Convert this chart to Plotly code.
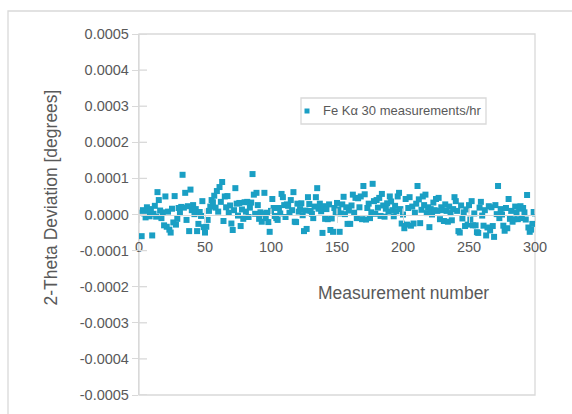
import plotly.graph_objects as go

# Measurement index and 2-theta deviation (in units of 1e-5 degrees)
measurement = list(range(1, 301))
deviation_e5 = [
    # 1-50
    0.5, -6.0, 1.2, 0.3, -0.8, 2.0, 0.9, -0.5, 1.5, -5.8,
    0.2, 2.4, -0.6, 6.2, 4.0, 1.1, -1.0, 0.6, -3.0, 5.0,
    -3.4, 0.8, -4.2, -5.0, 1.6, -2.2, 5.1, -2.8, -1.2, 1.8,
    0.4, 2.1, 11.0, 1.9, 6.0, -1.5, 2.3, -4.6, 6.9, 1.2,
    2.6, 0.1, 1.5, -4.6, -2.6, 0.7, -0.4, 3.7, -3.5, -5.0,
    # 51-100
    -3.4, -1.5, 1.0, 2.2, 4.0, 3.4, 5.2, 1.9, 6.5, 0.8,
    7.6, 3.5, 9.0, -1.8, 5.0, 2.0, 5.1, 0.5, 2.5, -2.5,
    -4.3, 1.2, 7.3, 3.0, -0.3, 3.2, -3.2, 1.4, -1.2, 3.4,
    0.8, 3.5, -0.7, 1.9, 3.3, 11.2, 5.5, 0.2, 6.0, 2.6,
    -1.2, 0.6, -2.0, 0.3, 6.0, -1.0, 0.5, -2.1, -4.8, 1.0,
    # 101-150
    4.3, 1.8, -0.4, -1.0, -1.5, 1.8, 0.3, 5.7, 4.8, 2.6,
    -0.7, 2.8, 2.4, 0.5, 4.0, 1.2, 6.2, -2.0, -2.1, 3.0,
    0.8, 1.5, 3.1, -0.2, -4.6, 1.1, -4.0, 4.8, 2.9, 1.0,
    0.2, -1.0, 2.2, 4.8, 7.3, 1.6, 3.0, 0.9, -5.1, 2.3,
    -1.2, 1.5, -1.3, 2.8, -4.3, -1.1, -4.8, 1.8, 0.4, 3.2,
    # 151-200
    1.4, -4.8, 0.3, 2.8, 4.9, 0.1, 2.0, -2.6, 1.1, -2.6,
    2.5, 5.5, 0.5, 4.6, -1.0, 4.5, 2.0, 5.0, -1.3, 7.9,
    5.6, -1.4, 1.8, 3.0, -1.0, 0.6, 8.5, 3.7, 0.2, 4.0,
    1.9, 4.6, -0.4, 5.7, 2.5, -0.6, 1.6, 3.1, 0.8, 5.0,
    3.6, 1.2, -0.5, 2.4, 0.9, 5.0, 6.0, 1.5, -2.5, 0.0,
    # 201-250
    -3.8, 4.3, -2.8, 1.8, 4.8, -3.1, 2.2, -2.5, 0.5, 3.0,
    7.9, 4.2, -2.4, 1.3, 5.0, 2.6, 5.5, 0.4, 2.0, -3.5,
    1.5, 0.0, 3.3, 1.2, 4.3, 1.0, 4.6, -1.3, 2.0, 1.2,
    -1.8, 2.8, 1.0, -2.0, 2.2, 0.4, -1.6, 1.5, 4.8, 3.7,
    1.0, -4.6, -5.0, 2.5, -1.1, 0.6, -3.2, 1.4, -2.8, 2.6,
    # 251-300
    -1.4, 3.7, -3.0, 0.3, -3.0, -4.9, -5.1, 1.9, 3.5, -0.3,
    -3.1, 1.2, -5.8, -3.6, 2.3, -4.4, 2.0, -3.2, -6.2, 2.6,
    0.1, 7.9, -1.0, 1.5, 0.0, -3.1, -4.5, 1.8, -3.8, 4.3,
    -1.2, 1.0, -2.0, -1.3, 2.2, 0.5, -1.3, 1.6, 2.3, -1.0,
    1.8, 0.6, -1.4, 5.4, -3.6, -4.8, -4.2, -2.6, 0.7, 0.3,
]
deviation_deg = [v * 1e-5 for v in deviation_e5]

x_ticks = [0, 50, 100, 150, 200, 250, 300]
y_ticks = [0.0005, 0.0004, 0.0003, 0.0002, 0.0001, 0.0,
           -0.0001, -0.0002, -0.0003, -0.0004, -0.0005]
y_tick_text = ["0.0005", "0.0004", "0.0003", "0.0002", "0.0001", "0.0000",
               "-0.0001", "-0.0002", "-0.0003", "-0.0004", "-0.0005"]

series_name = "Fe K\u03b1 30 measurements/hr"
marker_color = "#1a9fc4"
axis_color = "#d9d9d9"
text_color = "#595959"
font_family = "Liberation Sans, Arial, sans-serif"

W, H = 572, 414
ML, MR, MT, MB = 139, 37, 34, 19
PW, PH = W - ML - MR, H - MT - MB


def px_x(px):
    return (px - ML) / PW


def px_y(py):
    return (H - MB - py) / PH


fig = go.Figure()
fig.add_trace(go.Scatter(
    x=measurement, y=deviation_deg, mode="markers", name=series_name,
    marker=dict(symbol="square", size=6, color=marker_color, line=dict(width=0)),
    showlegend=False,
))

shapes = []
# outer chart frame (extends past the right and bottom edges)
shapes.append(dict(type="rect", xref="paper", yref="paper",
                   x0=px_x(8), x1=1.3, y0=-0.3, y1=px_y(11),
                   line=dict(color=axis_color, width=1.3), layer="below"))
# plot area border
shapes.append(dict(type="rect", xref="paper", yref="paper", x0=0, x1=1, y0=0, y1=1,
                   line=dict(color=axis_color, width=1.3), layer="below"))
# inner halves of the crossing tick marks
for v in y_ticks:
    shapes.append(dict(type="line", xref="paper", yref="y", x0=0, x1=8 / PW, y0=v, y1=v,
                       line=dict(color=axis_color, width=1.3)))
for v in x_ticks:
    shapes.append(dict(type="line", xref="x", yref="paper", x0=v, x1=v,
                       y0=0.5, y1=0.5 + 6 / PH,
                       line=dict(color=axis_color, width=1.3)))

# legend box with its symbol
lg_x0, lg_x1, lg_y0, lg_y1 = 301, 486, 98, 124
shapes.append(dict(type="rect", xref="paper", yref="paper",
                   x0=px_x(lg_x0), x1=px_x(lg_x1), y0=px_y(lg_y1), y1=px_y(lg_y0),
                   line=dict(color=axis_color, width=1.3), fillcolor="white"))
shapes.append(dict(type="rect", xref="paper", yref="paper",
                   x0=px_x(304.5), x1=px_x(309.5), y0=px_y(113.5), y1=px_y(108.5),
                   line=dict(width=0), fillcolor=marker_color))

annotations = [
    dict(text=series_name, xref="paper", yref="paper", x=px_x(321), y=px_y(111),
         xanchor="left", yanchor="middle", showarrow=False,
         font=dict(size=13, color=text_color, family=font_family)),
    dict(text="Measurement number", xref="paper", yref="paper",
         x=px_x(403.5), y=px_y(292.5), xanchor="center", yanchor="middle",
         showarrow=False, font=dict(size=17.5, color=text_color, family=font_family)),
    dict(text="2-Theta Deviation [degrees]", xref="paper", yref="paper",
         x=px_x(50), y=px_y(197.5), xanchor="center", yanchor="middle",
         textangle=-90, showarrow=False,
         font=dict(size=17.5, color=text_color, family=font_family)),
]

fig.update_layout(
    width=W, height=H,
    margin=dict(l=ML, r=MR, t=MT, b=MB, pad=0),
    paper_bgcolor="white", plot_bgcolor="white",
    font=dict(family=font_family, color=text_color),
    showlegend=False,
    shapes=shapes,
    annotations=annotations,
    xaxis=dict(
        range=[0, 300], tickvals=x_ticks, ticktext=[str(v) for v in x_ticks],
        anchor="free", position=0.5,
        showline=True, linecolor=axis_color, linewidth=1.3,
        ticks="outside", ticklen=7, tickwidth=1.3, tickcolor=axis_color,
        showgrid=False, zeroline=False,
        ticklabelstandoff=12,
        tickfont=dict(size=14.5, color=text_color, family=font_family),
    ),
    yaxis=dict(
        range=[-0.0005, 0.0005], tickvals=y_ticks, ticktext=y_tick_text,
        showline=True, linecolor=axis_color, linewidth=1.3,
        ticks="outside", ticklen=6, tickwidth=1.3, tickcolor=axis_color,
        showgrid=False, zeroline=False,
        tickfont=dict(size=14.5, color=text_color, family=font_family),
    ),
)

fig.write_html("out.html")
